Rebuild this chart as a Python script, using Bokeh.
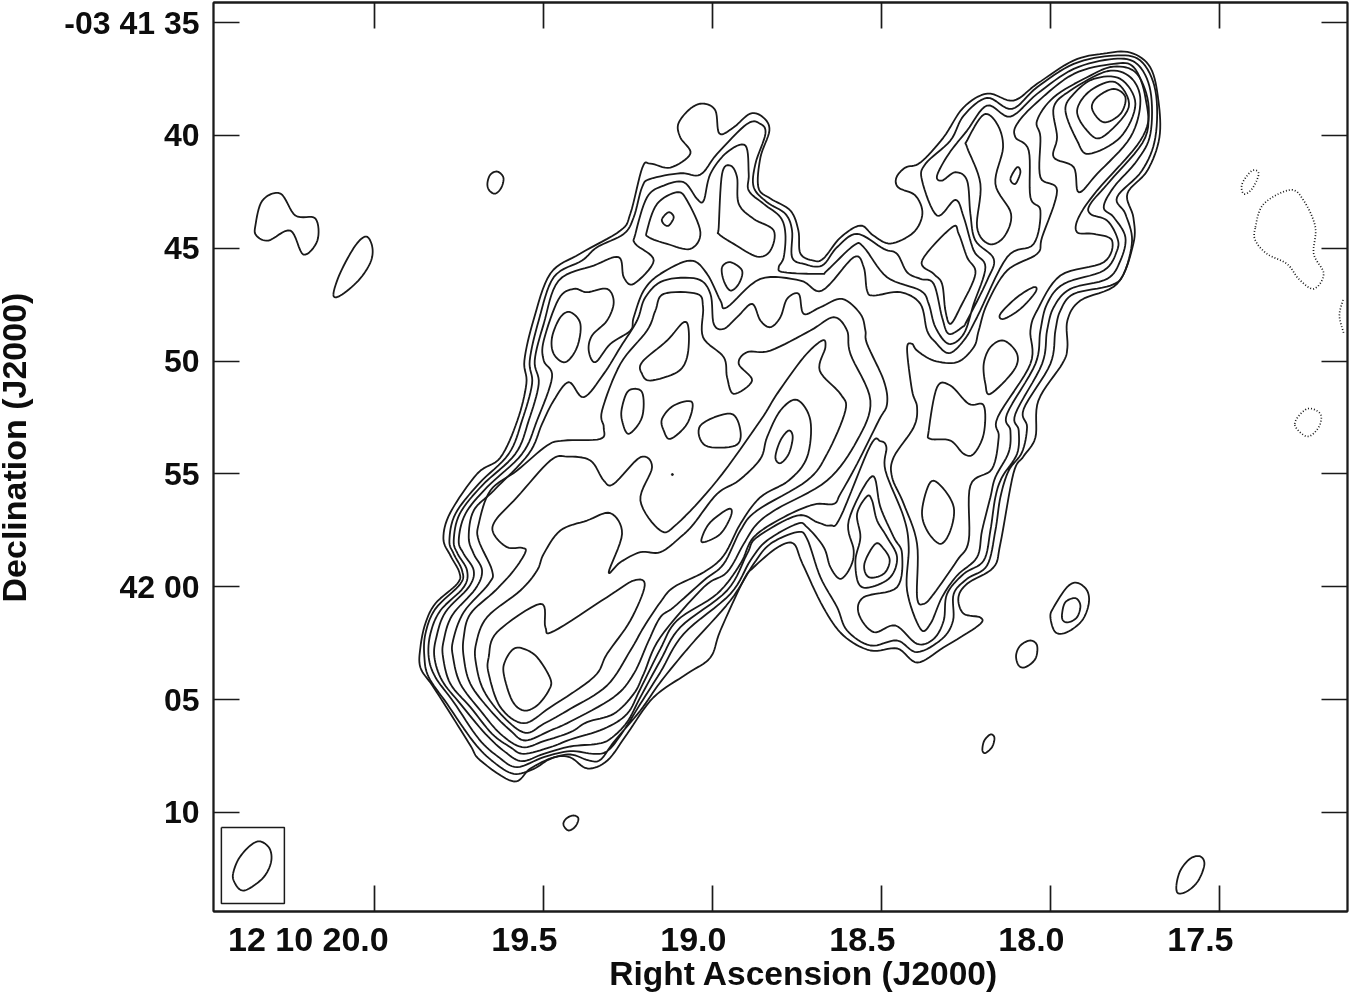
from bokeh.plotting import figure
from bokeh.models import Range1d, FixedTicker, LinearAxis
from bokeh.embed import file_html
from bokeh.resources import INLINE

# ---- axis content ---------------------------------------------------------
ra_ticks = [20.0, 19.5, 19.0, 18.5, 18.0, 17.5]
ra_labels = ["12 10 20.0", "19.5", "19.0", "18.5", "18.0", "17.5"]
dec_ticks = [35, 40, 45, 50, 55, 60, 65, 70]
dec_labels = ["-03 41 35", "40", "45", "50", "55", "42 00", "05", "10"]
ra_range = (20.476, 17.121)
dec_range = (74.39, 34.11)

def sheet(ox, oy, k=3.0):
    return lambda pts: [(ox + a / k, oy + b / k) for a, b in pts]
Z1 = sheet(400, 440); Z2 = sheet(520, 90); Z3 = sheet(820, 40); Z4 = sheet(760, 330)
Z7 = sheet(500, 260); Z8 = sheet(410, 570); Z9 = sheet(660, 480); Z6 = sheet(1200, 150)
Z5 = sheet(0, 780)
rev = lambda s: s[::-1]

L1 = [(513,781),(480,760),(470,745),(450,713),(432,685),(420,667),(420,647),(425,623),(435,603),(457,583),(459,572),(450,555),(443,538),(450,512),(477,473),(500,457),(517,420),(526,383),(524,360),(533,320),(550,273),(580,253),(620,230),(630,213),(642,167),(650,163),(670,167),(690,153),(680,137),(678,123),(690,108),(703,103),(715,110),(719,133),(733,127),(750,113),(763,117),(769,130),(760,157),(758,187),(770,198),(790,210),(798,230),(800,253),(813,260),(823,258),(840,237),(860,225),(873,235),(890,243),(913,232),(922,213),(915,195),(898,187),(896,177),(905,167),(920,162),(943,137),(963,107),(987,93),(1013,100),(1037,83),(1073,60),(1103,53),(1130,52),(1150,67),(1158,100),(1159,137),(1147,170),(1127,193),(1133,217),(1133,243),(1117,283),(1080,300),(1067,320),(1067,347),(1062,363),(1038,400),(1035,437),(1023,456),(1013,473),(1000,543),(993,567),(967,583),(958,597),(963,613),(980,617),(978,625),(943,647),(917,662),(897,648),(870,650),(843,635),(823,607),(802,563),(793,543),(777,547),(753,567),(743,580),(720,630),(710,657),(687,673),(653,697),(627,733),(607,760),(587,768),(570,757),(553,757),(530,768)]

S2 = Z8([(155,0),(150,40),(75,115),(45,190),(42,260),(55,320),(110,400),(190,515),(250,575),(310,610),(370,595),(420,565),(480,552)]) + Z1([(565,960),(600,958),(640,905),(720,810)]) + Z9([(0,605),(90,495),(210,360),(280,250),(330,190),(410,155),(440,175),(480,290),(530,380)]) + Z4([(260,900),(330,945),(410,930),(470,965),(545,925),(578,870),(580,790),(620,745),(680,705),(705,600),(720,500),(745,420),(785,365),(800,290),(790,235),(870,100),(885,0)])
S3 = Z8([(170,0),(160,50),(90,120),(60,190),(55,260),(75,320),(130,395),(205,505),(265,560),(320,590),(400,560),(480,542)]) + Z1([(580,940),(620,932),(660,885),(720,790)]) + Z9([(0,575),(70,460),(210,340),(270,240),(320,180),(410,130),(440,140),(490,200)]) + Z4([(210,710),(240,745),(270,710),(280,660),(265,570),(335,437),(360,530),(400,620),(425,670),(410,770),(310,800),(295,850),(340,905),(405,885),(470,940),(520,925),(550,870),(560,790),(610,730),(670,690),(690,600),(705,500),(725,440),(770,370),(775,300),(765,250),(845,100),(860,0)])
S4 = Z8([(190,0),(175,50),(105,125),(78,200),(72,260),(95,330),(150,400),(225,490),(285,545),(335,572),(400,550),(480,528)]) + Z1([(590,910),(630,895),(680,845),(720,770)]) + Z9([(0,540),(60,440),(200,330),(260,220),(290,170),(410,105),(470,125),(510,135)]) + Z4([(240,560),(330,345),(360,332),(378,350),(375,420),(430,560),(445,650),(440,780),(480,895),(510,880),(545,800),(590,735),(650,680),(665,600),(690,500),(705,440),(745,365),(750,300),(740,250),(825,100),(840,0)])
S5 = Z8([(215,0),(195,55),(125,135),(100,210),(98,260),(120,340),(180,410),(245,490),(300,530),(340,550),(420,530),(480,507)]) + Z1([(610,865),(680,820),(720,745)]) + Z9([(0,505),(50,420),(170,340),(240,250),(280,170),(370,110),(460,72),(520,70)]) + Z4([(240,490),(290,400),(355,270),(380,220),(370,150),(320,40),(315,0)])
S6 = Z8([(245,0),(235,40),(160,125),(128,210),(128,260),(150,340),(210,420),(270,490),(335,530),(400,512),(480,485)]) + Z1([(560,845),(640,820),(700,760),(730,700)]) + Z9([(0,470),(130,320),(200,275),(250,190),(290,130),(350,85),(500,0)]) + Z4([(290,330),(330,210),(270,70)])
L7 = Z8([(310,0),(255,60),(180,130),(160,200),(160,260),(180,340),(240,420),(300,480),(345,510),(420,480),(480,453)]) + Z1([(640,770),(700,700),(745,600)]) + Z9([(0,410),(40,380),(130,300),(190,250),(240,150),(290,90),(440,0)]) + Z4([(200,370),(255,240),(240,190),(178,120),(195,50),(185,30),(130,80),(50,190),(0,270)]) + Z9([(170,0),(50,130),(0,150)]) + Z1([(720,180),(755,80),(720,50),(640,130),(610,120),(570,60),(500,48),(450,60),(350,170),(285,240),(280,280),(320,320),(365,322),(375,335)])
L8 = Z8([(380,0),(330,60),(230,140),(197,220),(197,280),(220,360),(280,440),(345,487),(400,460),(480,415)]) + Z1([(620,735),(690,630),(730,560)]) + Z9([(0,365),(40,320),(130,275),(190,225),(240,130),(300,50),(385,0)]) + Z4([(140,380),(150,270),(110,208),(60,240),(20,320),(0,385)]) + Z9([(235,0),(170,40),(100,130),(60,170),(0,215)]) + Z1([(720,335),(660,365),(625,395),(665,280),(630,218),(560,240),(480,270),(430,340)])

N2 = Z1([(160,340),(147,300),(165,220),(235,130)]) + Z7([(25,580),(65,480),(95,370),(88,300),(115,180),(160,50),(245,0)]) + Z2([(230,470),(310,430),(340,380),(365,290),(390,265),(480,248),(540,252),(590,190),(680,100),(720,100),(735,130),(705,220),(700,290),(740,335),(795,370),(815,420),(815,500),(850,520),(905,525),(950,470),(1010,430),(1090,475),(1130,490),(1160,545)]) + Z3([(300,715),(340,730),(365,830),(385,880),(425,860),(440,840),(500,720),(520,655),(465,600),(450,520),(440,420),(405,395),(365,420),(350,405),(385,340),(440,270),(500,195),(570,228),(650,160),(760,85),(880,55),(950,70),(990,150),(990,280),(950,360),(880,440),(850,500),(880,530),(915,590),(900,660),(860,715),(750,745),(700,800)])
N3 = Z1([(172,340),(160,300),(178,220),(245,135)]) + Z7([(45,580),(85,480),(115,370),(103,300),(130,190),(175,60),(280,15)]) + Z2([(295,500),(310,560),(340,580),(400,510),(345,460),(345,430),(380,320),(430,285),(490,275),(530,325),(550,330),(570,250),(620,185),(675,165),(685,250),(685,300),(730,340),(780,380),(795,430),(790,500),(775,530),(790,545),(900,550),(920,540),(1000,465),(1030,470),(1100,560)]) + Z3([(300,750),(325,790),(345,860),(385,910),(430,880),(460,790),(495,680),(460,630),(430,530),(405,478),(350,525),(305,420),(315,370),(390,300),(430,225),(500,172),(575,205),(650,140),(760,70),(880,45),(960,60),(1005,150),(1005,290),(965,390),(890,470),(915,520),(935,600),(910,700),(870,735),(760,760),(720,810)])
N4 = Z1([(190,340),(175,300),(195,220),(260,140)]) + Z7([(65,580),(110,480),(155,350),(130,300),(130,240),(175,115),(220,85),(260,95),(320,85),(340,125),(320,180),(275,225),(265,270),(285,305),(330,250),(390,210)]) + Z2([(340,680),(370,600),(420,550),(510,510),(560,550),(600,630),(620,650),(720,565),(840,570),(905,600),(1000,500),(1030,530),(1040,600),(1060,615),(1140,605)]) + Z3([(300,790),(320,870),(345,905),(385,938),(430,900),(470,830),(560,650),(640,610),(660,510),(630,470),(625,330),(585,290),(590,250),(650,185),(760,100),(880,70),(940,80),(975,170),(975,290),(870,420),(810,490),(810,520),(860,540),(890,590),(890,630),(850,690),(730,730),(680,790)])
N5 = Z1([(220,340),(205,290),(220,210),(280,150)]) + Z7([(85,580),(125,490),(160,420),(205,365)]) + Z2([(190,920),(250,850),(300,770),(350,690),(375,620),(430,570),(530,565),(570,610),(580,700),(610,715),(650,680),(695,640),(720,690),(750,710),(780,680),(800,625),(835,610),(850,670),(900,650),(965,625),(1020,670)])
N6 = Z1([(235,300),(235,250),(270,150),(350,90),(440,15)]) + Z2([(130,1050),(240,1045),(250,1010),(245,960),(300,820),(380,720),(405,660),(430,610),(530,610),(548,650),(548,740),(610,800),(620,860),(640,910),(695,870),(655,820),(680,785),(750,780),(870,720),(940,680),(980,720)])

CONTOUR_A = rev(N2) + S2 + rev(N3) + S3
CONTOUR_B = rev(N4) + S4
CONTOUR_C = rev(N5) + S5
CONTOUR_D = rev(N6) + S6

E5 = Z4([(810,100),(712,260),(715,320),(695,415),(630,465),(625,630),(590,690),(520,790),(490,820),(470,800),(470,640),(430,520),(395,440),(400,380),(460,290),(470,230),(455,180),(440,55),(455,40),(470,60),(520,90),(590,95),(640,50),(655,0)]) + Z3([(500,790),(560,690),(650,640),(665,590),(710,450),(660,410),(660,290),(650,240),(700,170),(800,110),(880,78),(950,100),(985,200),(960,300),(830,450),(775,530),(770,575),(820,580),(875,600),(850,665),(720,705),(650,810),(630,870)])
L9 = Z1([(265,650),(290,575),(420,490),(435,560),(460,572),(620,470),(700,420),(733,435),(690,540),(620,640),(580,710),(450,800),(370,848),(300,800),(265,700)])
L10 = Z1([(340,625),(370,625),(410,650),(450,715),(445,750),(410,795),(370,810),(335,780),(310,700),(315,660)])
H1 = Z3([(700,200),(710,290),(700,350),(760,380),(775,455),(830,400),(930,290),(960,180),(930,110),(860,92),(750,150)])
H2 = Z3([(735,210),(770,300),(805,340),(900,290),(945,190),(900,115),(820,115),(760,160)])
H3 = Z3([(770,210),(800,270),(845,290),(925,200),(885,125),(810,150)])
H4 = Z3([(815,205),(850,245),(900,220),(915,170),(880,145),(830,170)])
LOBE = Z3([(440,300),(490,222),(530,250),(548,320),(525,430),(572,520),(550,590),(505,610),(470,560),(480,430),(440,320)])
SPOT = Z3([(570,415),(590,380),(600,395),(585,430)])
DIAMOND = Z3([(305,660),(395,560),(415,580),(440,650),(465,700),(420,800),(390,850),(375,810),(365,730),(340,700)])
SLANT = Z3([(540,820),(590,770),(640,740),(645,755),(600,805),(550,835)])
B1 = Z4([(670,100),(690,50),(730,30),(770,70),(760,120),(690,190),(675,160)])
B2 = Z4([(505,300),(530,170),(570,165),(625,220),(670,225),(670,310),(640,370),(610,370),(570,330),(510,325)])
B3 = Z4([(485,540),(510,455),(545,470),(580,530),(570,600),(540,640),(500,600)])
B4 = Z4([(320,497),(290,550),(300,620),(285,690),(295,760),(330,770),(390,740),(410,680),(380,620),(350,570),(335,510)])
B5 = Z4([(345,640),(312,700),(325,740),(370,730),(388,690),(370,655)])
B6 = Z4([(45,380),(60,330),(85,300),(97,320),(85,370),(60,398)])
C1 = Z2([(95,740),(120,680),(150,665),(180,700),(170,770),(135,815),(100,790)])
C2 = Z2([(365,815),(440,750),(490,695),(505,720),(500,800),(470,845),(390,870),(365,850)])
C3 = Z2([(305,950),(325,900),(365,905),(365,980),(325,1030),(305,990)])
C4 = Z2([(425,985),(460,945),(515,935),(500,1000),(450,1045),(430,1020)])
C5 = [(700,425),(730,413),(740,430),(735,445),(705,445)]
C6 = Z2([(425,385),(445,365),(460,380),(445,405),(430,400)])
C7 = Z2([(380,420),(410,340),(470,305),(500,330),(540,425),(510,475),(440,460),(385,440)])
C8 = Z2([(595,410),(605,250),(630,225),(650,260),(655,340),(700,385),(760,420),(750,480),(710,498),(640,460),(595,430)])
C9 = Z2([(605,530),(630,515),(665,540),(655,580),(630,600),(610,570)])
C10 = Z9([(125,170),(150,125),(205,85),(212,105),(180,160),(130,185)])
ISL1 = [(255,225),(262,200),(280,193),(295,215),(315,218),(317,240),(303,254),(290,230),(268,240),(256,235)]
ISL2 = [(333,294),(340,272),(355,245),(366,236),(372,247),(370,262),(358,280),(340,295)]
ISL3 = [(487,183),(490,174),(497,171),(503,177),(501,187),(495,193),(489,190)]
ISL4 = [(563,824),(566,818),(573,815),(578,818),(575,826),(568,830)]
ISL5 = [(982,748),(984,740),(990,734),(994,737),(992,746),(986,752),(983,752)]
ISL6 = Z4([(767,975),(780,945),(810,930),(830,945),(825,985),(795,1010),(775,1005)])
ISL7 = Z4([(870,860),(880,830),(920,770),(950,757),(980,780),(985,820),(965,870),(920,905),(885,905)])
ISL8 = Z4([(905,850),(915,815),(945,803),(960,825),(950,860),(925,875),(908,870)])
ISL9 = [(1176,885),(1180,870),(1190,858),(1200,856),(1204,864),(1198,880),(1188,890),(1178,893)]
BEAM = Z5([(698,280),(715,235),(750,195),(780,183),(808,205),(812,245),(790,290),(745,325),(720,328),(702,305)])
BEAM_BOX = [(221,827),(284,827),(284,903),(221,903),(221,827)]
NEG1 = Z6([(125,100),(155,60),(175,70),(155,115),(130,130)])
NEG2 = Z6([(165,230),(190,160),(270,118),(310,150),(345,230),(340,310),(370,370),(340,415),(295,385),(260,340),(200,310),(165,270)])
NEG3 = Z6([(428,448),(417,495),(430,548)])
NEG4 = Z6([(283,820),(320,775),(360,790),(355,830),(320,858)])
SPECK = [(672,474)]

closed_contours = [L1, CONTOUR_A, CONTOUR_B, CONTOUR_C, CONTOUR_D, L7, L8, E5, L9, L10, H1, H2, H3, H4, LOBE, SPOT, DIAMOND, SLANT,
                   B1, B2, B3, B4, B5, B6, C1, C2, C3, C4, C5, C6, C7, C8, C9, C10,
                   ISL1, ISL2, ISL3, ISL4, ISL5, ISL6, ISL7, ISL8, ISL9, BEAM]
neg_closed = [NEG1, NEG2, NEG4]
neg_open = [NEG3]

def to_ra(px):
    return 20.0 - (px - 374) / 338.0
def to_dec(py):
    return 35.0 + (py - 22) / 22.57

def smooth(pts, closed=True, n=8):
    m = len(pts)
    out = []
    rng = range(m) if closed else range(m - 1)
    for i in rng:
        if closed:
            p0, p1, p2, p3 = pts[(i-1) % m], pts[i], pts[(i+1) % m], pts[(i+2) % m]
        else:
            p0, p1, p2, p3 = pts[max(i-1,0)], pts[i], pts[i+1], pts[min(i+2,m-1)]
        for j in range(n):
            t = j / n
            f = lambda a, b, c, d: 0.5*((2*b)+(c-a)*t+(2*a-5*b+4*c-d)*t*t+(3*b-a-3*c+d)*t**3)
            out.append((f(p0[0],p1[0],p2[0],p3[0]), f(p0[1],p1[1],p2[1],p3[1])))
    out.append(out[0] if closed else pts[-1])
    return out

def xy(pts):
    return [to_ra(a) for a, _ in pts], [to_dec(b) for _, b in pts]

INK = "#1a1a1a"
FONT = "Liberation Sans"
TEXT = "#0d0d0d"
NB = "\u00a0"

p = figure(width=1358, height=994, output_backend="svg", toolbar_location=None,
           x_range=Range1d(*ra_range), y_range=Range1d(*dec_range),
           min_border_left=221, min_border_right=3, min_border_top=2, min_border_bottom=83,
           background_fill_color="white", border_fill_color="white")
p.styles = {"position": "fixed", "left": "-8px", "top": "0px"}
p.grid.visible = False
p.outline_line_color = INK
p.outline_line_width = 1.8

def style_axis(ax, labels=True):
    ax.major_tick_in = 26
    ax.major_tick_out = 0
    ax.minor_tick_line_color = None
    ax.major_tick_line_color = INK
    ax.major_tick_line_width = 1.7
    ax.axis_line_color = INK
    ax.axis_line_width = 1.8
    ax.major_label_text_font = FONT
    ax.major_label_text_font_style = "bold"
    ax.major_label_text_color = TEXT
    if not labels:
        ax.major_label_text_font_size = "0px"
        ax.major_label_text_color = None
        ax.major_label_standoff = 0

xa = p.xaxis[0]; ya = p.yaxis[0]
xa.ticker = FixedTicker(ticks=ra_ticks)
ya.ticker = FixedTicker(ticks=dec_ticks)
ya.major_label_overrides = dict(zip(dec_ticks, dec_labels))
style_axis(xa, False); style_axis(ya)
ya.major_label_text_font_size = "32px"
ya.major_label_standoff = 14
ya.axis_label = NB * 2 + "Declination (J2000)"
ya.axis_label_text_font = FONT
ya.axis_label_text_font_style = "bold"
ya.axis_label_text_font_size = "34px"
ya.axis_label_text_color = TEXT
ya.axis_label_standoff = 28

top = LinearAxis(ticker=FixedTicker(ticks=ra_ticks)); style_axis(top, False)
right = LinearAxis(ticker=FixedTicker(ticks=dec_ticks)); style_axis(right, False)
p.add_layout(top, "above"); p.add_layout(right, "right")

# tick labels sit left of their ticks in the original: a label-only axis carries them
label_shift_px = [66, 19, 19, 19, 19, 19]
ra_label_pos = [round(t + s / 338.0, 4) for t, s in zip(ra_ticks, label_shift_px)]
lab = LinearAxis(ticker=FixedTicker(ticks=ra_label_pos))
lab.major_label_overrides = dict(zip(ra_label_pos, ra_labels))
lab.major_tick_line_color = None
lab.minor_tick_line_color = None
lab.axis_line_color = None
lab.major_label_text_font = FONT
lab.major_label_text_font_style = "bold"
lab.major_label_text_color = TEXT
lab.major_label_text_font_size = "34px"
lab.major_label_standoff = 2
lab.axis_label = NB * 5 + "Right Ascension (J2000)"
lab.axis_label_text_font = FONT
lab.axis_label_text_font_style = "bold"
lab.axis_label_text_font_size = "33.5px"
lab.axis_label_text_color = TEXT
lab.axis_label_standoff = -6
p.add_layout(lab, "below")

for c in closed_contours:
    xs, ys = xy(smooth(c, True))
    p.line(xs, ys, line_color=INK, line_width=1.8)
for c in neg_closed:
    xs, ys = xy(smooth(c, True))
    p.line(xs, ys, line_color=INK, line_width=1.7, line_dash="1 2")
for c in neg_open:
    xs, ys = xy(smooth(c, False))
    p.line(xs, ys, line_color=INK, line_width=1.7, line_dash="1 2")
xs, ys = xy(BEAM_BOX)
p.line(xs, ys, line_color=INK, line_width=1.5)
xs, ys = xy(SPECK)
p.scatter(xs, ys, size=2, color=INK)

open("out.html", "w").write(file_html(p, INLINE))
